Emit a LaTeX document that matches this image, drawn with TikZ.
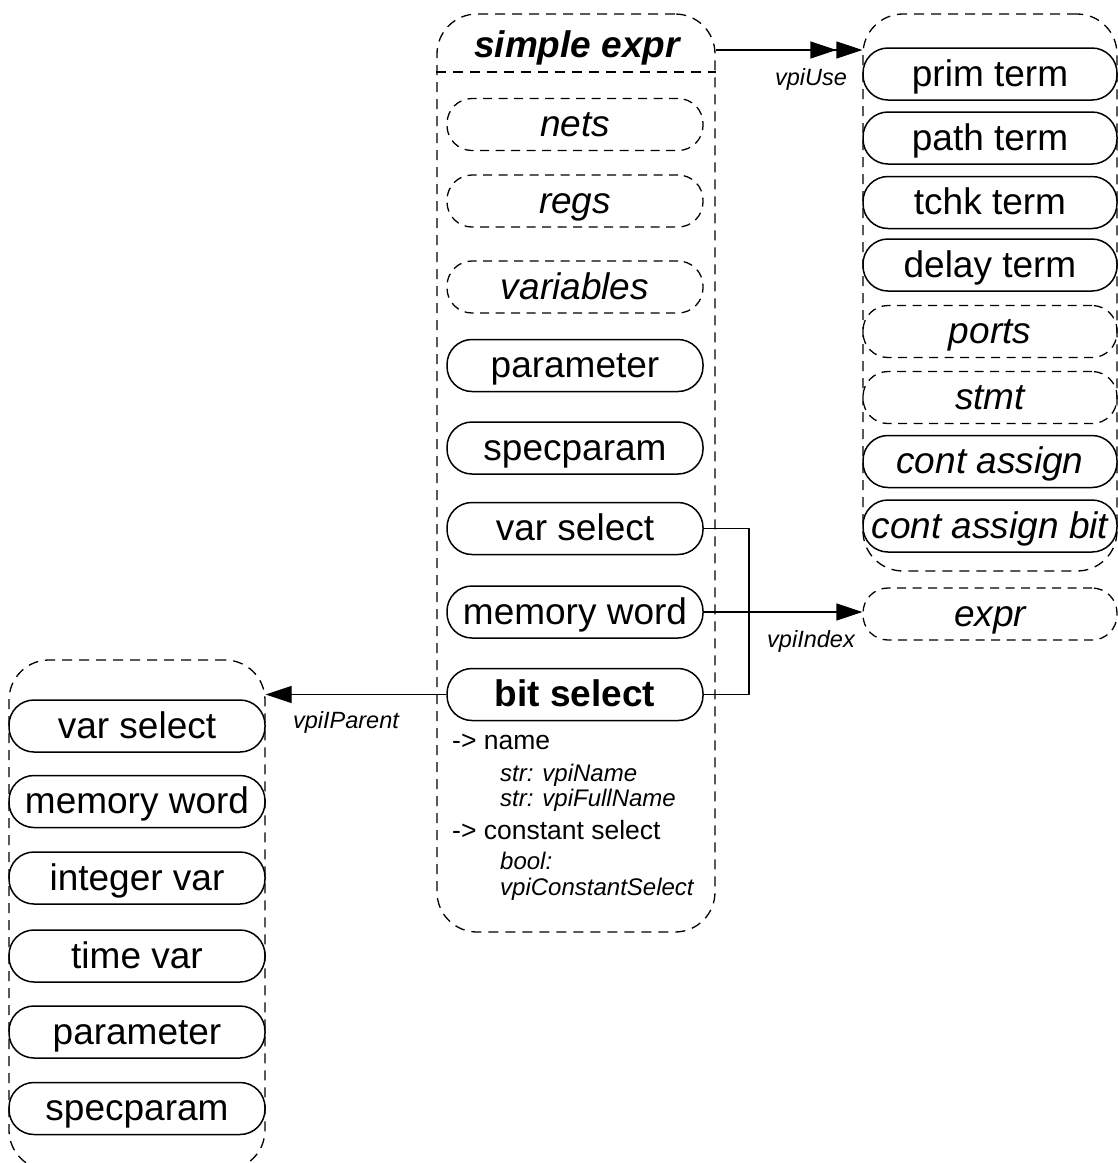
\documentclass[tikz,border=0pt]{standalone}
\usepackage{fontspec}
\setmainfont{Liberation Sans}
\usetikzlibrary{arrows.meta}

\begin{document}
\begin{tikzpicture}[x=1pt,y=-1pt,line join=round,
  obj/.style={draw,line width=1.5pt,rounded corners=25pt,minimum width=256pt,
    minimum height=52pt,inner sep=0pt,text height=28pt,text depth=4pt,
    font=\fontsize{37}{44}\selectfont},
  cls/.style={obj,dash pattern=on 9pt off 6.5pt,line width=1.3pt,font=\fontsize{37}{44}\selectfont\itshape},
  grp/.style={draw,dash pattern=on 10pt off 7pt,line width=1.3pt,rounded corners=40pt,inner sep=0pt},
  lbl/.style={inner sep=0pt,font=\fontsize{23.5}{28}\selectfont\itshape},
  prop/.style={anchor=base west,inner sep=0pt,font=\fontsize{26.5}{32}\selectfont},
  attr/.style={anchor=base west,inner sep=0pt,font=\fontsize{24}{28}\selectfont\itshape},
  one/.style={line width=1.3pt,-{Triangle[length=26pt,width=17pt]}},
  many/.style={line width=1.3pt,-{Triangle[length=26pt,width=17pt]Triangle[length=26pt,width=17pt]}}]

\useasboundingbox (0,0) rectangle (1118,1163);
\clip (0,0) rectangle (1118,1163);

%% ---------------- middle group: simple expr ----------------
\node[grp,minimum width=278pt,minimum height=918pt] (mid) at (576,473) {};
\node[anchor=base,inner sep=0pt,font=\fontsize{37}{44}\selectfont\bfseries\itshape]
  (hdr) at (577,57) {simple expr};
\draw[dash pattern=on 10pt off 7pt,line width=1.3pt] (mid.west |- 0,72) -- (mid.east |- 0,72);
\node[cls] (nets) at (575,124.5) {nets};
\node[cls] (regs) at (575,201) {regs};
\node[cls] (vars) at (575,287) {variables};
\node[obj] (param) at (575,365.5) {parameter};
\node[obj] (specp) at (575,448) {specparam};
\node[obj] (varsel) at (575,528.5) {var select};
\node[obj] (memw) at (575,612) {memory word};
\node[obj,font=\fontsize{37}{44}\selectfont\bfseries] (bitsel) at (575,694.5) {bit select};
%% properties of bit select
\node[prop] (pname) at (452,749) {-> name};
\node[attr] (aname) at (500,781) {str: vpiName};
\node[attr] (afull) at (500,806) {str: vpiFullName};
\node[prop] (pconst) at (452,839) {-> constant select};
\node[attr] (abool) at (500,869) {bool:};
\node[attr] (aconst) at (500,895) {vpiConstantSelect};

%% ---------------- right group: uses ----------------
\node[grp,minimum width=254pt,minimum height=557pt] (rgt) at (990,292.5) {};
\node[obj,minimum width=254pt] (prim) at (990,74) {prim term};
\node[obj,minimum width=254pt] (path) at (990,138) {path term};
\node[obj,minimum width=254pt] (tchk) at (990,202.5) {tchk term};
\node[obj,minimum width=254pt] (delay) at (990,265) {delay term};
\node[cls,minimum width=254pt] (ports) at (990,331.5) {ports};
\node[cls,minimum width=254pt] (stmt) at (990,397.5) {stmt};
\node[obj,minimum width=254pt,font=\fontsize{37}{44}\selectfont\itshape] (cassign) at (990,461.5) {cont assign};
\node[obj,minimum width=254pt,font=\fontsize{37}{44}\selectfont\itshape] (cabit) at (990,526) {cont assign bit};
\node[cls,minimum width=254pt] (expr) at (990,614) {expr};

%% ---------------- left group: parents ----------------
\node[grp,minimum width=256pt,minimum height=510pt] (lft) at (137,915) {};
\node[obj] (lvarsel) at (137,726) {var select};
\node[obj] (lmemw) at (137,801.5) {memory word};
\node[obj] (lint) at (137,878) {integer var};
\node[obj] (ltime) at (137,956) {time var};
\node[obj] (lparam) at (137,1032) {parameter};
\node[obj] (lspec) at (137,1108.5) {specparam};

%% ---------------- relations ----------------
\coordinate (usept) at (715,50);
\draw[many] (mid.east |- usept) -- (rgt.west |- usept);
\node[lbl] (luse) at (811,79) {vpiUse};
%% bracket over the three selects
\coordinate (brk) at (749,0);
\draw[line width=1.3pt] (varsel.east) -- (varsel.east -| brk) -- (bitsel.east -| brk) -- (bitsel.east);
\draw[one] (memw.east) -- (expr.west |- memw.east);
\node[lbl] (lindex) at (811,641) {vpiIndex};
\draw[one] (bitsel.west) -- (lft.east |- bitsel.west);
\node[lbl] (lparent) at (346,722) {vpiIParent};

\end{tikzpicture}
\end{document}
